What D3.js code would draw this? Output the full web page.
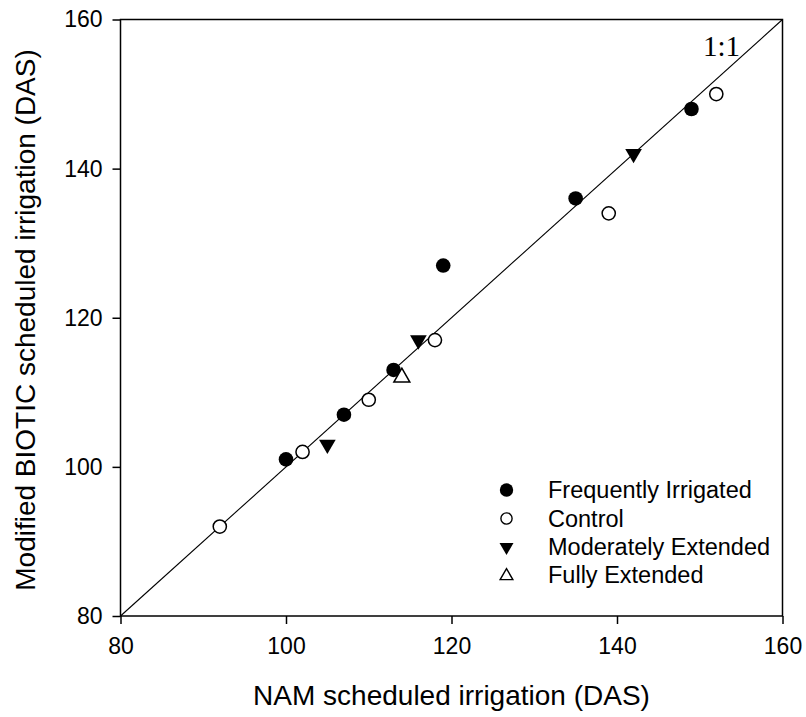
<!DOCTYPE html>
<html>
<head>
<meta charset="utf-8">
<script src="https://cdn.jsdelivr.net/npm/d3@7"></script>
<style>
  html, body { margin: 0; padding: 0; background: #fff; }
</style>
</head>
<body>
<svg id="chart" width="806" height="717"></svg>
<script>
// ---- data ----
const seriesNames = ["Frequently Irrigated", "Control", "Moderately Extended", "Fully Extended"];
const frequentlyX = [100, 107, 113, 119, 135, 149];
const frequentlyY = [101, 107, 113, 127, 136, 148];
const controlX = [92, 102, 110, 118, 139, 152];
const controlY = [92, 102, 109, 117, 134, 150];
const moderateX = [105, 116, 142];
const moderateY = [103, 117, 142];
const fullyX = [114];
const fullyY = [112];
const tickValues = [80, 100, 120, 140, 160];
const xTitle = "NAM scheduled irrigation (DAS)";
const yTitle = "Modified BIOTIC scheduled irrigation (DAS)";
const lineLabel = "1:1";

const SANS = "Arial, 'Liberation Sans', sans-serif";
const SERIF = "'Liberation Serif', 'Times New Roman', serif";

const svg = d3.select("#chart");
const pL = 120.5, pR = 782.5, pT = 19.5, pB = 616;
const x = d3.scaleLinear().domain([80, 160]).range([pL, pR]);
const y = d3.scaleLinear().domain([80, 160]).range([pB, pT]);

// frame
svg.append("rect").attr("x", pL).attr("y", pT)
  .attr("width", pR - pL).attr("height", pB - pT)
  .attr("fill", "none").attr("stroke", "#000").attr("stroke-width", 1.5);

// axes
const xAxis = svg.append("g").attr("transform", `translate(0,${pB})`)
  .call(d3.axisBottom(x).tickValues(tickValues).tickSize(8).tickPadding(14).tickFormat(d3.format("d")));
const yAxis = svg.append("g").attr("transform", `translate(${pL},0)`)
  .call(d3.axisLeft(y).tickValues(tickValues).tickSize(8).tickPadding(10).tickFormat(d3.format("d")));
[xAxis, yAxis].forEach(g => {
  g.select(".domain").remove();
  g.selectAll(".tick line").attr("stroke", "#000").attr("stroke-width", 1.5);
  g.selectAll(".tick text").style("font-size", "23px").style("font-family", SANS).attr("fill", "#000");
});

// 1:1 line
svg.append("line")
  .attr("x1", x(80)).attr("y1", y(80)).attr("x2", x(160)).attr("y2", y(160))
  .attr("stroke", "#000").attr("stroke-width", 1.1);
svg.append("text").attr("x", 740).attr("y", 56).attr("text-anchor", "end")
  .style("font-family", SERIF).style("font-size", "29px").attr("fill", "#000")
  .text(lineLabel);

// markers
const triSym = d3.symbol().type(d3.symbolTriangle);
function drawCircles(xs, ys, filled) {
  svg.append("g").selectAll("circle").data(xs.map((v, i) => [v, ys[i]])).join("circle")
    .attr("cx", d => x(d[0])).attr("cy", d => y(d[1]))
    .attr("r", filled ? 7.3 : 6.6)
    .attr("fill", filled ? "#000" : "#fff")
    .attr("stroke", "#000").attr("stroke-width", filled ? 0 : 1.5);
}
function drawTriangles(xs, ys, filled, size) {
  svg.append("g").selectAll("path").data(xs.map((v, i) => [v, ys[i]])).join("path")
    .attr("d", triSym.size(size)())
    .attr("transform", d => `translate(${x(d[0])},${y(d[1])}) rotate(${filled ? 180 : 0})`)
    .attr("fill", filled ? "#000" : "#fff")
    .attr("stroke", "#000").attr("stroke-width", filled ? 0 : 1.5);
}
drawCircles(controlX, controlY, false);
drawCircles(frequentlyX, frequentlyY, true);
drawTriangles(moderateX, moderateY, true, 120);
drawTriangles(fullyX, fullyY, false, 110);

// legend
const legendRows = [490, 518.5, 547, 575];
const lg = svg.append("g");
seriesNames.forEach((name, i) => {
  const cy = legendRows[i], cx = 506.5;
  if (i === 0) lg.append("circle").attr("cx", cx).attr("cy", cy).attr("r", 6.7).attr("fill", "#000");
  if (i === 1) lg.append("circle").attr("cx", cx).attr("cy", cy).attr("r", 5.6).attr("fill", "#fff").attr("stroke", "#000").attr("stroke-width", 1.4);
  if (i === 2) lg.append("path").attr("d", triSym.size(85)()).attr("transform", `translate(${cx},${cy}) rotate(180)`).attr("fill", "#000");
  if (i === 3) lg.append("path").attr("d", triSym.size(70)()).attr("transform", `translate(${cx},${cy + 1})`).attr("fill", "#fff").attr("stroke", "#000").attr("stroke-width", 1.4);
  lg.append("text").attr("x", 548).attr("y", cy).attr("dy", "0.36em")
    .style("font-family", SANS).style("font-size", "23.5px").attr("fill", "#000").text(name);
});

// axis titles
svg.append("text").attr("x", (pL + pR) / 2).attr("y", 705).attr("text-anchor", "middle")
  .style("font-family", SANS).style("font-size", "28px").attr("fill", "#000").text(xTitle);
svg.append("text").attr("transform", `translate(35,320) rotate(-90)`).attr("text-anchor", "middle")
  .style("font-family", SANS).style("font-size", "28px").attr("fill", "#000").text(yTitle);
</script>
</body>
</html>
